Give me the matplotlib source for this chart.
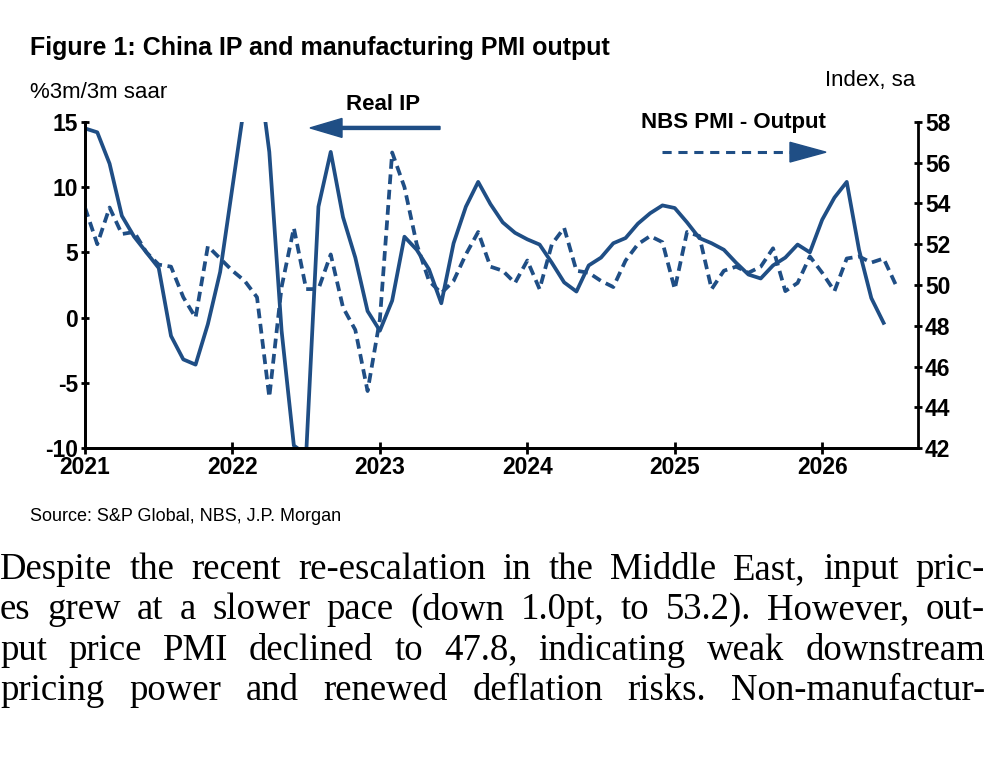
import matplotlib
matplotlib.use("Agg")
import matplotlib.pyplot as plt
import numpy as np

ip = [14.5, 14.2, 11.8, 7.8, 6.2, 5.0, 3.8, -1.4, -3.2, -3.6, -0.5, 3.5,
      10.0, 16.5, 20.0, 12.7, -1.0, -9.8, -10.5, 8.5, 12.7, 7.7, 4.6, 0.5,
      -1.0, 1.3, 6.2, 5.2, 3.7, 1.1, 5.7, 8.5, 10.4, 8.7, 7.3, 6.5,
      6.0, 5.6, 4.2, 2.7, 2.0, 4.0, 4.6, 5.7, 6.1, 7.2, 8.0, 8.6,
      8.4, 7.3, 6.1, 5.7, 5.2, 4.2, 3.3, 3.0, 4.0, 4.6, 5.6, 5.0,
      7.5, 9.2, 10.4, 5.2, 1.5, -0.4]
pmi = [53.8, 52.0, 53.8, 52.5, 52.6, 51.6, 51.0, 50.9, 49.4, 48.4, 51.9, 51.3,
       50.7, 50.2, 49.4, 44.5, 49.9, 52.8, 49.8, 49.8, 51.5, 48.9, 47.8, 44.8,
       48.3, 56.5, 54.8, 52.0, 50.2, 49.6, 50.2, 51.5, 52.6, 50.9, 50.7, 50.1,
       51.2, 49.8, 52.0, 52.8, 50.7, 50.6, 50.2, 49.9, 51.2, 52.0, 52.4, 52.1,
       49.8, 52.6, 52.4, 49.8, 50.7, 50.9, 50.6, 50.9, 51.8, 49.7, 50.1, 51.4,
       50.6, 49.7, 51.3, 51.4, 51.1, 51.3, 50.0]
years = [2021, 2022, 2023, 2024, 2025, 2026]
left_ticks = [-10, -5, 0, 5, 10, 15]
right_ticks = [42, 44, 46, 48, 50, 52, 54, 56, 58]

body_lines = [
    "Despite the recent re-escalation in the Middle East, input pric-",
    "es grew at a slower pace (down 1.0pt, to 53.2). However, out-",
    "put price PMI declined to 47.8, indicating weak downstream",
    "pricing power and renewed deflation risks. Non-manufactur-",
]

C = "#1f4e85"
plt.rcParams['font.family'] = ['Liberation Sans', 'DejaVu Sans']
plt.rcParams['axes.unicode_minus'] = False
fig = plt.figure(figsize=(10, 7.57), dpi=100)
ax = fig.add_axes([0.085, 0.408, 0.833, 0.431])
ax2 = ax.twinx()

x_ip = 2021 + np.arange(len(ip)) / 12
x_pmi = 2021 + np.arange(len(pmi)) / 12
ax.plot(x_ip, ip, color=C, lw=2.7)
ax2.plot(x_pmi, pmi, color=C, lw=2.7, ls=(0, (2.6, 1.5)))

ax.set_xlim(2021, 2021 + 67.8 / 12)
ax.set_ylim(-10, 15)
ax2.set_ylim(42, 58)
ax.set_yticks(left_ticks)
ax2.set_yticks(right_ticks)
ax.set_xticks(years)
ax.set_xticklabels([str(y) for y in years])
for a in (ax, ax2):
    a.tick_params(axis='both', labelsize=16.5, width=2, length=6, direction='inout', pad=2)
    for lab in a.get_yticklabels() + a.get_xticklabels():
        lab.set_fontweight('bold')
    for s in a.spines.values():
        s.set_linewidth(2)
    a.spines['top'].set_visible(False)
ax.tick_params(axis='x', direction='inout', length=8)
ax.spines['right'].set_visible(False)

fig.text(0.03, 0.937, "Figure 1: China IP and manufacturing PMI output", fontsize=18,
         fontweight='bold', va='center')
fig.text(0.03, 0.878, "%3m/3m saar", fontsize=16, va='center')
fig.text(0.915, 0.893, "Index, sa", fontsize=16, va='center', ha='right')
fig.text(0.03, 0.318, "Source: S&P Global, NBS, J.P. Morgan", fontsize=13, va='center')

fig.text(0.383, 0.862, "Real IP", fontsize=16, fontweight='bold', va='center', ha='center')
fig.text(0.733, 0.838, "NBS PMI - Output", fontsize=16, fontweight='bold', va='center', ha='center')
fig.patches.append(matplotlib.patches.FancyArrow(0.44, 0.831, -0.13, 0, width=0.004,
    head_width=0.025, head_length=0.032, length_includes_head=True, color=C,
    transform=fig.transFigure, figure=fig))
fig.add_artist(matplotlib.lines.Line2D([0.662, 0.79], [0.799, 0.799], color=C, lw=2.2,
    ls=(0, (3, 2.2)), transform=fig.transFigure))
fig.patches.append(matplotlib.patches.Polygon([[0.79, 0.812], [0.79, 0.786], [0.826, 0.799]],
    closed=True, color=C, transform=fig.transFigure, figure=fig))

# justified body text
fig.canvas.draw()
r = fig.canvas.get_renderer()
x0, x1 = 0.0, 0.985
ys = [0.247, 0.194, 0.141, 0.088]
for i, (line, y) in enumerate(zip(body_lines, ys)):
    words = line.split(" ")
    objs = [fig.text(0, y, w, fontsize=26.5, family='Liberation Serif', va='center') for w in words]
    widths = [o.get_window_extent(r).width / fig.bbox.width for o in objs]
    gap = (x1 - x0 - sum(widths)) / (len(words) - 1)
    gap = max(gap, 0.004)
    x = x0
    for o, w in zip(objs, widths):
        o.set_x(x)
        x += w + gap
fig.savefig("out.png", dpi=100)
